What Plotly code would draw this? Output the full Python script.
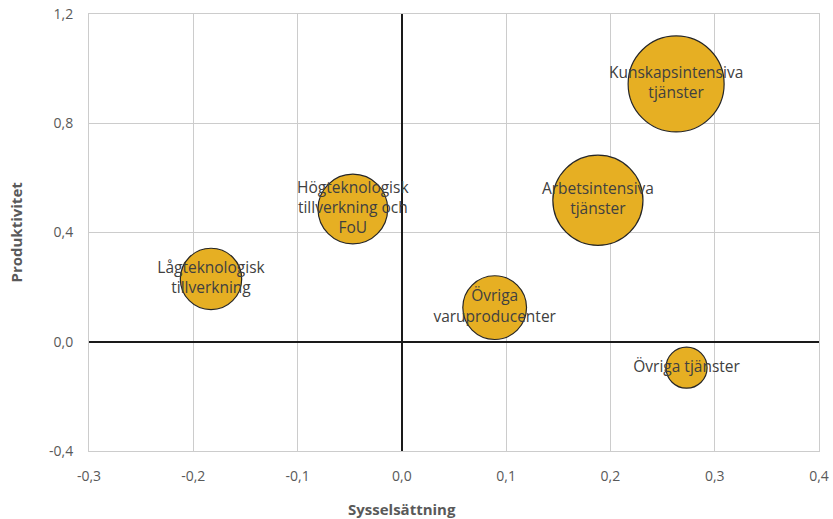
import plotly.graph_objects as go

labels = ["Lågteknologisk<br>tillverkning", "Högteknologisk<br>tillverkning och<br>FoU",
          "Övriga<br>varuproducenter", "Arbetsintensiva<br>tjänster",
          "Kunskapsintensiva<br>tjänster", "Övriga tjänster"]
syssel = [-0.183, -0.047, 0.089, 0.188, 0.263, 0.273]
produkt = [0.230, 0.486, 0.125, 0.518, 0.944, -0.095]
bubble_size = [38, 49, 41, 82, 93, 17]

x_ticks = [-0.3, -0.2, -0.1, 0.0, 0.1, 0.2, 0.3, 0.4]
y_ticks = [-0.4, 0.0, 0.4, 0.8, 1.2]
fmt = lambda v: f"{v:.1f}".replace(".", ",")

max_px = 96
sizeref = 2 * max(bubble_size) / (max_px ** 2)

fig = go.Figure(go.Scatter(
    x=syssel, y=produkt, mode="markers+text", text=labels,
    textposition="middle center",
    textfont=dict(family="Open Sans", size=15.5, color="#404040"),
    marker=dict(size=bubble_size, sizemode="area", sizeref=sizeref,
                color="#E6AF23", opacity=1,
                line=dict(color="#262626", width=1.2)),
    cliponaxis=False, hoverinfo="skip",
))

axis_common = dict(showgrid=True, gridcolor="#cccccc", gridwidth=1,
                   zeroline=True, zerolinecolor="#1a1a1a", zerolinewidth=2,
                   showline=True, linecolor="#cccccc", linewidth=1, mirror=True,
                   ticks="", automargin=False,
                   tickfont=dict(family="Open Sans", size=14, color="#595959"))

fig.update_layout(
    width=833, height=519,
    margin=dict(l=89, r=14, t=14, b=68),
    paper_bgcolor="white", plot_bgcolor="white",
    showlegend=False,
    xaxis=dict(range=[-0.3, 0.4], tickvals=x_ticks, ticktext=[fmt(v) for v in x_ticks],
               ticklabelstandoff=12, **axis_common),
    yaxis=dict(range=[-0.4, 1.2], tickvals=y_ticks, ticktext=[fmt(v) for v in y_ticks],
               ticklabelstandoff=12, **axis_common),
    annotations=[
        dict(text="<b>Sysselsättning</b>", xref="x", yref="paper", x=0.0, y=0,
             yshift=-58, xanchor="center", yanchor="middle", showarrow=False,
             font=dict(family="Open Sans", size=15, color="#595959")),
        dict(text="<b>Produktivitet</b>", xref="paper", yref="paper", x=0, y=0.5,
             xshift=-74, xanchor="center", yanchor="middle", showarrow=False, textangle=-90,
             font=dict(family="Open Sans", size=15, color="#595959")),
    ],
)

fig.write_html("out.html", config={"displayModeBar": False},
               post_script="document.body.style.margin='0';document.body.style.overflow='hidden';")
